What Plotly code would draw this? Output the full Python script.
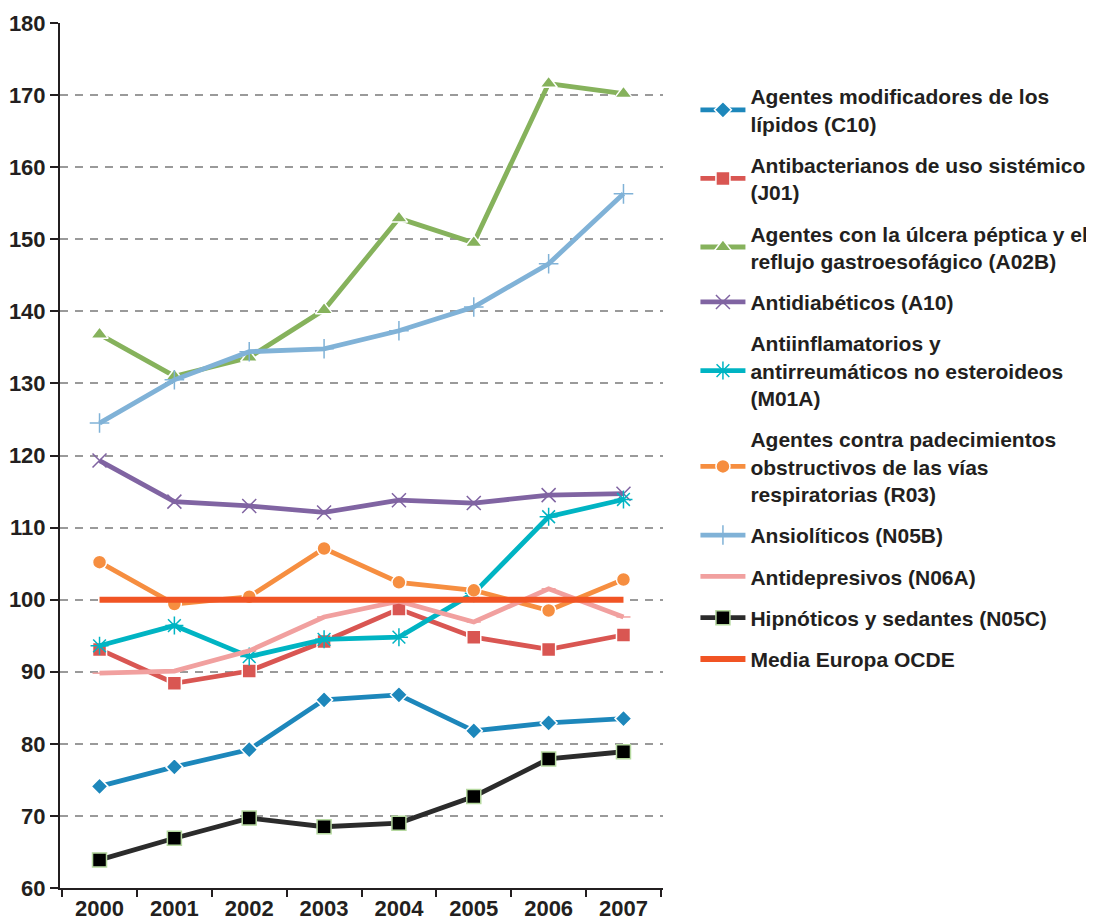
import plotly.graph_objects as go

# ── Data ────────────────────────────────────────────────────────────────
YEARS = ["2000", "2001", "2002", "2003", "2004", "2005", "2006", "2007"]

C10 = [74.1, 76.8, 79.2, 86.1, 86.8, 81.8, 82.9, 83.5]
J01 = [93.1, 88.4, 90.1, 94.2, 98.7, 94.8, 93.1, 95.1]
A02B = [136.8, 131.0, 133.6, 140.2, 152.9, 149.5, 171.6, 170.2]
A10 = [119.3, 113.6, 113.0, 112.1, 113.8, 113.4, 114.5, 114.7]
M01A = [93.6, 96.4, 92.1, 94.5, 94.8, 100.9, 111.5, 113.9]
R03 = [105.2, 99.4, 100.4, 107.1, 102.4, 101.3, 98.5, 102.8]
N05B = [124.5, 130.5, 134.4, 134.8, 137.3, 140.6, 146.6, 156.3]
N06A = [89.8, 90.1, 92.9, 97.6, 99.8, 96.9, 101.5, 97.6]
N05C = [63.9, 66.9, 69.7, 68.5, 69.0, 72.7, 77.9, 78.9]
OCDE = [100, 100, 100, 100, 100, 100, 100, 100]

Y_TICKS = [60, 70, 80, 90, 100, 110, 120, 130, 140, 150, 160, 170, 180]

TEXT = "#231f20"
FONT = "Liberation Sans, Arial, sans-serif"

# page body has an 8px margin, so the figure is sized to fit inside the window
W, H = 1086, 914

# (name, values, line colour, marker symbol, marker colour, marker outline, size)
SERIES = [
    ("Agentes modificadores de los<br>lípidos (C10)", C10, "#1d87bb", "diamond", "#1d87bb", "white", 13),
    ("Antibacterianos de uso sistémico<br>(J01)", J01, "#d95652", "square", "#d95652", "white", 14),
    ("Agentes con la úlcera péptica y el<br>reflujo gastroesofágico (A02B)", A02B, "#86b25c", "triangle-up", "#86b25c", "white", 15),
    ("Antidiabéticos (A10)", A10, "#8064a2", "x-thin-open", "#8064a2", None, 14),
    ("Antiinflamatorios y<br>antirreumáticos no esteroideos<br>(M01A)", M01A, "#00b4c3", "asterisk-open", "#00b4c3", None, 15),
    ("Agentes contra padecimientos<br>obstructivos de las vías<br>respiratorias (R03)", R03, "#f68e40", "circle", "#f68e40", "white", 14),
    ("Ansiolíticos (N05B)", N05B, "#80b2d7", "cross-thin-open", "#80b2d7", None, 14),
    ("Antidepresivos (N06A)", N06A, "#f1a09f", "line-ew-open", "#f1a09f", None, 10),
    ("Hipnóticos y sedantes (N05C)", N05C, "#2b2b2b", "square", "#000000", "#b6d9a0", 14),
]

fig = go.Figure()

for i, (name, vals, lc, sym, mc, outline, size) in enumerate(SERIES):
    if outline is None:
        marker = dict(symbol=sym, size=size, color=mc, line=dict(color=mc, width=1.5))
    else:
        marker = dict(symbol=sym, size=size, color=mc, line=dict(color=outline, width=1.5))
    fig.add_trace(go.Scatter(
        x=YEARS, y=vals, name=name,
        mode="lines+markers",
        line=dict(color=lc, width=4.8),
        marker=marker,
        legendgroup=f"g{i}",
    ))

fig.add_trace(go.Scatter(
    x=YEARS, y=OCDE, name="Media Europa OCDE",
    mode="lines",
    line=dict(color="#f15424", width=6),
    legendgroup="g9",
))

fig.update_layout(
    width=W, height=H,
    paper_bgcolor="white", plot_bgcolor="white",
    font=dict(family=FONT, size=20, color=TEXT, weight="bold"),
    margin=dict(l=52, r=431, t=15, b=34),
    showlegend=True,
    legend=dict(
        xref="container", yref="container",
        x=0.633, y=1 - 68 / H, xanchor="left", yanchor="top",
        font=dict(family=FONT, size=21, color=TEXT, weight="bold"),
        tracegroupgap=11,
        itemwidth=45,
        maxheight=900,
        bgcolor="rgba(0,0,0,0)",
    ),
)

fig.update_xaxes(
    type="category", tickson="boundaries",
    showline=True, linecolor="#231f20", linewidth=2,
    ticks="outside", ticklen=7, tickwidth=2, tickcolor="#231f20",
    showgrid=False, zeroline=False, automargin=False,
    tickfont=dict(family=FONT, size=22, color=TEXT, weight="bold"),
)
fig.update_yaxes(
    range=[60, 180], tickvals=Y_TICKS,
    showline=True, linecolor="#231f20", linewidth=2,
    ticks="outside", ticklen=8, tickwidth=2, tickcolor="#231f20",
    showgrid=True, gridcolor="#9a9a9a", gridwidth=1.5, griddash="8px,7px",
    zeroline=False, automargin=False,
    tickfont=dict(family=FONT, size=22, color=TEXT, weight="bold"),
)

fig.write_html("out.html")
